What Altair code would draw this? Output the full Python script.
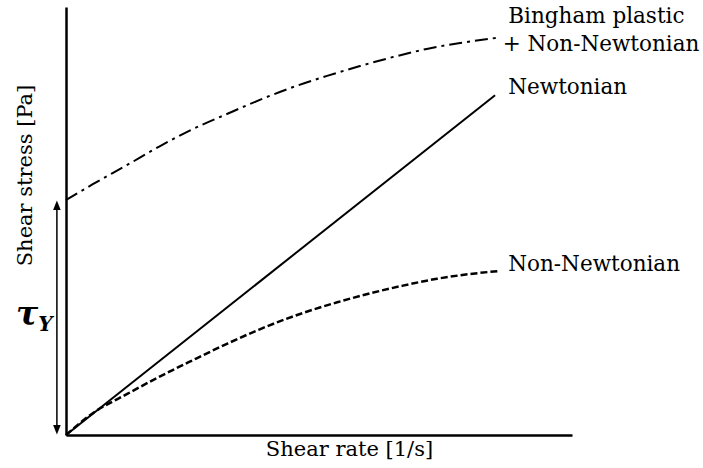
import altair as alt
import pandas as pd

# Newtonian fluid: straight line through the origin
newtonian_rate = [0, 84.8]
newtonian_stress = [0, 79.4]

# Shear-thinning (non-Newtonian) fluid
non_newtonian_rate = [0, 5.3, 12.1, 18.6, 25.1, 31.8, 38.3, 46.8, 53.6, 60.1, 66.6, 73.3, 79.8, 85.4]
non_newtonian_stress = [0, 5.1, 9.6, 13.7, 17.5, 21.3, 24.7, 28.5, 31.0, 33.1, 34.9, 36.5, 37.6, 38.3]

# Bingham plastic that thins once the yield stress is exceeded
bingham_rate = [0, 5.3, 12.1, 18.6, 25.1, 31.8, 38.3, 44.9, 51.6, 58.1, 64.6, 71.3, 77.9, 85.2]
bingham_stress = [54.9, 58.6, 63.1, 67.5, 71.5, 75.0, 78.3, 81.3, 83.9, 86.2, 88.3, 90.2, 91.6, 92.8]

# Yield stress marked by the double arrow
yield_stress = 54.9

curve_labels = ["Bingham plastic", "+ Non-Newtonian", "Newtonian", "Non-Newtonian"]

FONT = "DejaVu Serif"

xs = alt.Scale(domain=[0, 100], nice=False, zero=False)
ys = alt.Scale(domain=[0, 100], nice=False, zero=False)

x_axis = alt.Axis(
    title="Shear rate [1/s]", ticks=False, labels=False, grid=False,
    domainColor="black", domainWidth=2.5,
    titleFont=FONT, titleFontSize=21, titleFontWeight="normal", titleColor="black",
    titleX=283, titleY=20, titleAlign="center", titleBaseline="alphabetic",
)
y_axis = alt.Axis(
    title="Shear stress [Pa]", ticks=False, labels=False, grid=False,
    domainColor="black", domainWidth=2.5,
    titleFont=FONT, titleFontSize=21, titleFontWeight="normal", titleColor="black",
    titleAngle=270, titleX=-41, titleY=168, titleAlign="center", titleBaseline="middle",
)


def X(field="x"):
    return alt.X(f"{field}:Q", scale=xs, axis=x_axis)


def Y(field="y"):
    return alt.Y(f"{field}:Q", scale=ys, axis=y_axis)


newtonian = alt.Chart(pd.DataFrame({"x": newtonian_rate, "y": newtonian_stress})).mark_line(
    color="black", strokeWidth=2
).encode(x=X(), y=Y())

non_newtonian = alt.Chart(pd.DataFrame({"x": non_newtonian_rate, "y": non_newtonian_stress})).mark_line(
    color="black", strokeWidth=2.5, strokeDash=[7, 3], interpolate="monotone"
).encode(x=X(), y=Y())

bingham = alt.Chart(pd.DataFrame({"x": bingham_rate, "y": bingham_stress})).mark_line(
    color="black", strokeWidth=2, strokeDash=[13, 5, 3, 5], interpolate="monotone"
).encode(x=X(), y=Y())

# Double-headed arrow spanning the yield stress, just left of the stress axis
arrow_x = -1.8
arrow_shaft = alt.Chart(pd.DataFrame({"y0": [1.5], "y1": [yield_stress - 1.5]})).mark_rule(
    color="black", strokeWidth=1.5
).encode(x=alt.datum(arrow_x, scale=xs), y=alt.Y("y0:Q", scale=ys, axis=y_axis), y2="y1:Q")

head_shape = "M0,-1L0.8,1L-0.8,1Z"
arrow_top = alt.Chart(pd.DataFrame({"y": [yield_stress - 1.2]})).mark_point(
    shape=head_shape, filled=True, color="black", opacity=1, size=90
).encode(x=alt.datum(arrow_x, scale=xs), y=Y())
arrow_bottom = alt.Chart(pd.DataFrame({"y": [1.2]})).mark_point(
    shape=head_shape, filled=True, color="black", opacity=1, size=90, angle=180
).encode(x=alt.datum(arrow_x, scale=xs), y=Y())

tau = alt.Chart(pd.DataFrame({"t": ["τ"]})).mark_text(
    font=FONT, fontSize=33, fontStyle="italic", fontWeight="bold",
    align="left", baseline="alphabetic", color="black"
).encode(x=alt.datum(-9.9, scale=xs), y=alt.datum(25.6, scale=ys), text="t:N")
tau_sub = alt.Chart(pd.DataFrame({"t": ["Y"]})).mark_text(
    font=FONT, fontSize=20, fontStyle="italic", fontWeight="bold",
    align="left", baseline="alphabetic", color="black"
).encode(x=alt.datum(-5.5, scale=xs), y=alt.datum(24.4, scale=ys), text="t:N")


def curve_label(text, xv, yv):
    return alt.Chart(pd.DataFrame({"t": [text]})).mark_text(
        font=FONT, fontSize=21.5, align="left", baseline="middle", color="black"
    ).encode(x=alt.datum(xv, scale=xs), y=alt.datum(yv, scale=ys), text="t:N")


labels = [
    curve_label(curve_labels[0], 87.4, 97.7),
    curve_label(curve_labels[1], 86.3, 91.1),
    curve_label(curve_labels[2], 87.4, 81.1),
    curve_label(curve_labels[3], 87.4, 39.7),
]

chart = alt.layer(
    newtonian, non_newtonian, bingham, arrow_shaft, arrow_top, arrow_bottom, tau, tau_sub, *labels
).properties(
    width=506, height=428,
    padding={"left": 66, "top": 7, "right": 131, "bottom": 33},
    autosize=alt.AutoSizeParams(type="none"),
    background="white",
).configure_view(stroke=None)

chart.save("out.html", embed_options={"renderer": "svg", "actions": False})
